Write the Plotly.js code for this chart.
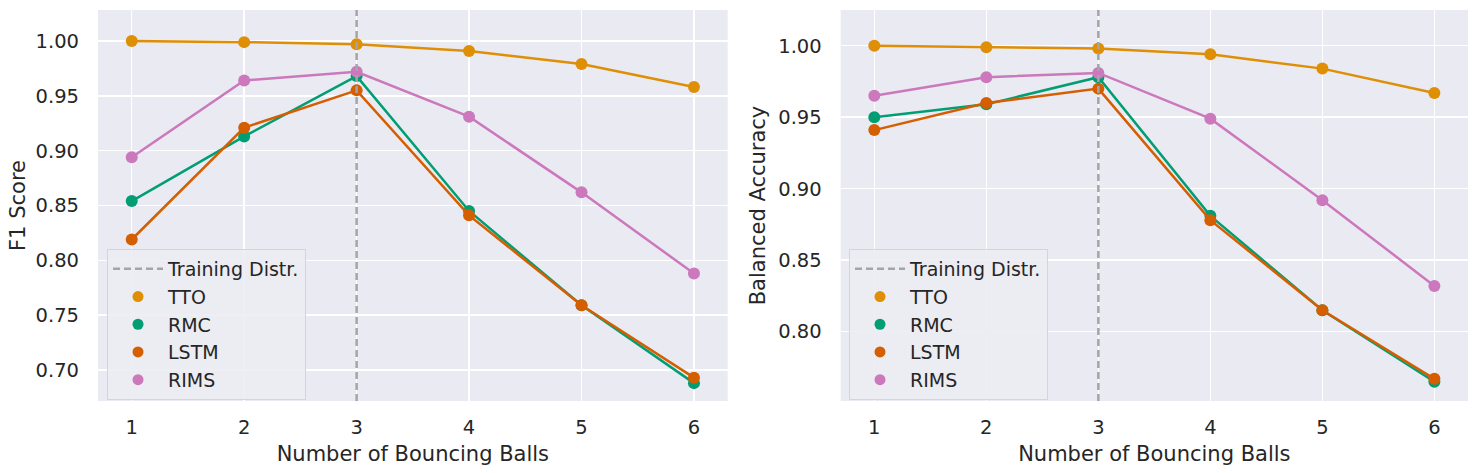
<!DOCTYPE html>
<html>
<head>
<meta charset="utf-8">
<script src="https://cdn.plot.ly/plotly-3.0.1.min.js"></script>
<style>html,body{margin:0;padding:0;background:#fff;}#chart{width:1472px;height:473px;}</style>
</head>
<body>
<div id="chart"></div>
<script>
// ---- data ----
const balls = [1, 2, 3, 4, 5, 6];
const seriesNames = ["TTO", "RMC", "LSTM", "RIMS"];
const f1TTO  = [1.000, 0.999, 0.997, 0.991, 0.979, 0.958];
const f1RMC  = [0.854, 0.913, 0.968, 0.845, 0.759, 0.688];
const f1LSTM = [0.819, 0.921, 0.955, 0.841, 0.759, 0.693];
const f1RIMS = [0.894, 0.964, 0.972, 0.931, 0.862, 0.788];
const baTTO  = [1.000, 0.999, 0.998, 0.994, 0.984, 0.967];
const baRMC  = [0.950, 0.959, 0.978, 0.881, 0.815, 0.765];
const baLSTM = [0.941, 0.960, 0.970, 0.878, 0.815, 0.767];
const baRIMS = [0.965, 0.978, 0.981, 0.949, 0.892, 0.832];
const trainingBalls = 3;
const trainingLabel = "Training Distr.";
const f1Ticks = [0.70, 0.75, 0.80, 0.85, 0.90, 0.95, 1.00];
const baTicks = [0.80, 0.85, 0.90, 0.95, 1.00];
const f1Range = [0.6717, 1.0283];
const baRange = [0.7515, 1.025];
const xRange = [0.7, 6.3];

const colors = ["#de8f05", "#029e73", "#d55e00", "#cc78bc"];
const FONT = "DejaVu Sans";
const TXT = "#262626";

const f1Data = [f1TTO, f1RMC, f1LSTM, f1RIMS];
const baData = [baTTO, baRMC, baLSTM, baRIMS];

function panel(data, xa, ya, legendId, yr) {
  const tr = [];
  data.forEach((vals, i) => {
    tr.push({x: balls, y: vals, type: "scatter", mode: "lines+markers", xaxis: xa, yaxis: ya,
      line: {color: colors[i], width: 2.5}, marker: {color: colors[i], size: 12},
      showlegend: false, hoverinfo: "x+y", name: seriesNames[i]});
  });
  tr.push({x: [trainingBalls, trainingBalls], y: yr, type: "scatter", mode: "lines", xaxis: xa, yaxis: ya,
    line: {color: "#a5a5a5", width: 2.5, dash: "7px,4px"}, showlegend: false, name: trainingLabel});
  // legend entries
  tr.push({x: [null], y: [null], type: "scatter", mode: "lines", xaxis: xa, yaxis: ya, legend: legendId,
    line: {color: "#a5a5a5", width: 2.5, dash: "7px,4px"}, name: trainingLabel, showlegend: true});
  seriesNames.forEach((n, i) => {
    tr.push({x: [null], y: [null], type: "scatter", mode: "markers", xaxis: xa, yaxis: ya, legend: legendId,
      marker: {color: colors[i], size: 11}, name: n, showlegend: true});
  });
  return tr;
}

const traces = panel(f1Data, "x", "y", "legend", f1Range).concat(panel(baData, "x2", "y2", "legend2", baRange));

const xaxisBase = {
  range: xRange, tickvals: balls, ticktext: balls.map(String), showgrid: true, gridcolor: "#ffffff", gridwidth: 1.5,
  zeroline: false, showline: false, ticks: "", ticklabelstandoff: 12,
  tickfont: {family: FONT, size: 19.5, color: TXT},
  title: {text: "Number of Bouncing Balls", font: {family: FONT, size: 21, color: TXT}, standoff: 8}
};
const yaxisBase = {
  showgrid: true, gridcolor: "#ffffff", gridwidth: 1.5, zeroline: false, showline: false, ticks: "",
  ticklabelstandoff: 18, tickformat: ".2f",
  tickfont: {family: FONT, size: 19.5, color: TXT}
};
const legendBase = {
  bgcolor: "rgba(236,236,243,0.9)", bordercolor: "#d4d4dc", borderwidth: 1,
  font: {family: FONT, size: 19, color: TXT}, yanchor: "top", xanchor: "left", tracegroupgap: 0,
  itemwidth: 50
};

const layout = {
  width: 1472, height: 473,
  margin: {l: 0, r: 0, t: 10, b: 72},
  paper_bgcolor: "#ffffff", plot_bgcolor: "#eaeaf2",
  font: {family: FONT, color: TXT},
  xaxis: Object.assign({}, xaxisBase, {domain: [98/1472, 727.7/1472], anchor: "y"}),
  yaxis: Object.assign({}, yaxisBase, {range: f1Range, tickvals: f1Ticks, anchor: "x",
    title: {text: "F1 Score", font: {family: FONT, size: 21, color: TXT}, standoff: 4}}),
  xaxis2: Object.assign({}, xaxisBase, {domain: [840.7/1472, 1468/1472], anchor: "y2"}),
  yaxis2: Object.assign({}, yaxisBase, {range: baRange, tickvals: baTicks, anchor: "x2",
    title: {text: "Balanced Accuracy", font: {family: FONT, size: 21, color: TXT}, standoff: 6}}),
  legend: Object.assign({}, legendBase, {x: 107/1472, y: (401-249)/391}),
  legend2: Object.assign({}, legendBase, {x: 849/1472, y: (401-249)/391}),
  showlegend: true
};

Plotly.newPlot("chart", traces, layout, {displayModeBar: false, staticPlot: true});
</script>
</body>
</html>
